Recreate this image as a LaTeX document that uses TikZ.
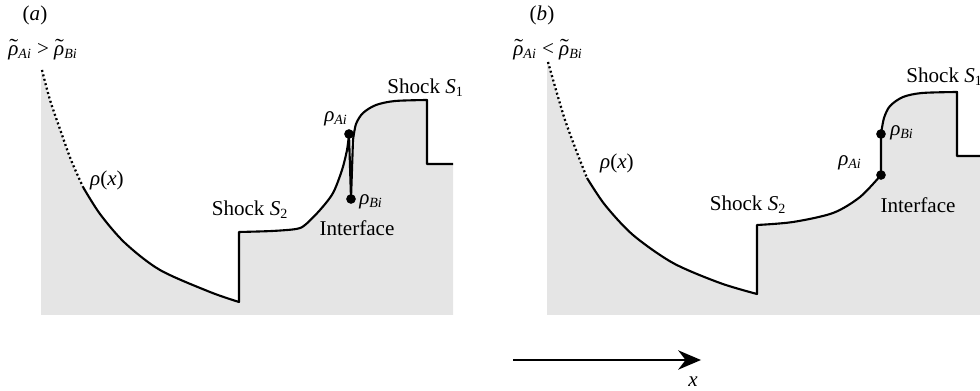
\documentclass[tikz,border=0pt]{standalone}
\usepackage{fontspec}
\setmainfont{Liberation Serif}
\usetikzlibrary{arrows.meta, positioning}

\newcommand{\rhoit}{\textit{ρ}}
\newcommand{\rhosub}[1]{\rhoit\textsubscript{\textit{#1}}}
\newcommand{\rhotil}[1]{\rhoit\llap{\raisebox{0.2ex}{\scalebox{1.25}[1]{\char"02DC}}\kern0.2pt}\textsubscript{\textit{#1}}}

\begin{document}
\begin{tikzpicture}[
        x=0.02cm, y=-0.02cm,
        profile/.style={line width=1.2pt, line join=round},
        tail/.style={line width=1.3pt, dash pattern=on 1.1pt off 1.5pt},
        region/.style={fill=black!10},
        txt/.style={font=\fontsize{12}{14}\selectfont, inner sep=0pt},
        pt/.style={circle, fill, inner sep=0pt, minimum size=5.5pt}
    ]
    \useasboundingbox (0,0) rectangle (980,391);

    % (a)
    \fill[region] (42,70) plot[smooth] coordinates {(42,70) (50,100) (61,132) (71,160) (83,187)}
        -- plot[smooth] coordinates {(83,187) (100,214) (125,243) (160,270) (210,292) (239,302)}
        -- (239,232) -- plot[smooth] coordinates {(239,232) (272,231) (296,229) (305,225) (320,210) (333,193) (342,170) (347,150) (349,134)}
        -- (351,199) -- plot[smooth] coordinates {(353,140) (356,124) (363,113) (376,105) (395,101) (427,100)}
        -- (427,164) -- (453,164) -- (453,315) -- (41,315) -- (41,70) -- cycle;
    \draw[tail] plot[smooth] coordinates {(42,70) (50,100) (61,132) (71,160) (83,187)};
    \draw[profile] plot[smooth] coordinates {(83,187) (100,214) (125,243) (160,270) (210,292) (239,302)}
        -- (239,232) -- plot[smooth] coordinates {(239,232) (272,231) (296,229) (305,225) (320,210) (333,193) (342,170) (347,150) (349,134)}
        -- (351,199) -- plot[smooth] coordinates {(353,140) (356,124) (363,113) (376,105) (395,101) (427,100)}
        -- (427,164) -- (453,164);
    \node[pt] (aA) at (349,134) {};
    \node[pt] (aB) at (351,199) {};

    \node[txt] (alab) at (35,15) {(\textit{a})};
    \node[txt] (acmp) at (43,50) {\rhotil{Ai} > \rhotil{Bi}};
    \node[txt] (arho) at (107,180) {\rhoit(\textit{x})};
    \node[txt] (as2) at (250,210) {Shock \textit{S}\textsubscript{2}};
    \node[txt] (aint) at (357,228) {Interface};
    \node[txt] (arA) at (336,119) {\rhosub{Ai}};
    \node[txt] (arB) at (371,202) {\rhosub{Bi}};
    \node[txt, anchor=west] (as1) at (387,88) {Shock \textit{S}\textsubscript{1}};

    % (b)
    \fill[region] (548,62) plot[smooth] coordinates {(548,62) (556,90) (565,120) (576,150) (587,178)}
        -- plot[smooth] coordinates {(587,178) (605,205) (633,235) (673,263) (720,283) (757,294)}
        -- (757,225) -- plot[smooth] coordinates {(757,225) (793,222) (833,213) (860,197) (881,175)}
        -- (881,134) -- plot[smooth] coordinates {(881,134) (884,118) (890,106) (903,97) (922,93) (957,92)}
        -- (957,156) -- (980,156) -- (980,315) -- (547,315) -- (547,62) -- cycle;
    \draw[tail] plot[smooth] coordinates {(548,62) (556,90) (565,120) (576,150) (587,178)};
    \draw[profile] plot[smooth] coordinates {(587,178) (605,205) (633,235) (673,263) (720,283) (757,294)}
        -- (757,225) -- plot[smooth] coordinates {(757,225) (793,222) (833,213) (860,197) (881,175)}
        -- (881,134) -- plot[smooth] coordinates {(881,134) (884,118) (890,106) (903,97) (922,93) (957,92)}
        -- (957,156) -- (982,156);
    \node[pt] (bA) at (881,175) {};
    \node[pt] (bB) at (881,134) {};

    \node[txt] (blab) at (542,15) {(\textit{b})};
    \node[txt] (bcmp) at (548,50) {\rhotil{Ai} < \rhotil{Bi}};
    \node[txt] (brho) at (617,163) {\rhoit(\textit{x})};
    \node[txt] (bs2) at (748,205) {Shock \textit{S}\textsubscript{2}};
    \node[txt] (bint) at (918,205) {Interface};
    \node[txt] (brA) at (850,163) {\rhosub{Ai}};
    \node[txt] (brB) at (902,133) {\rhosub{Bi}};
    \node[txt, anchor=west] (bs1) at (906,77) {Shock \textit{S}\textsubscript{1}};

    % x axis
    \coordinate (xfrom) at (513,360);
    \coordinate (xto) at (701,360);
    \draw[line width=1.1pt, -{Stealth[length=13pt, width=11pt]}] (xfrom) -- (xto);
    \node[txt] (xlab) at (693,382) {\textit{x}};
\end{tikzpicture}
\end{document}
